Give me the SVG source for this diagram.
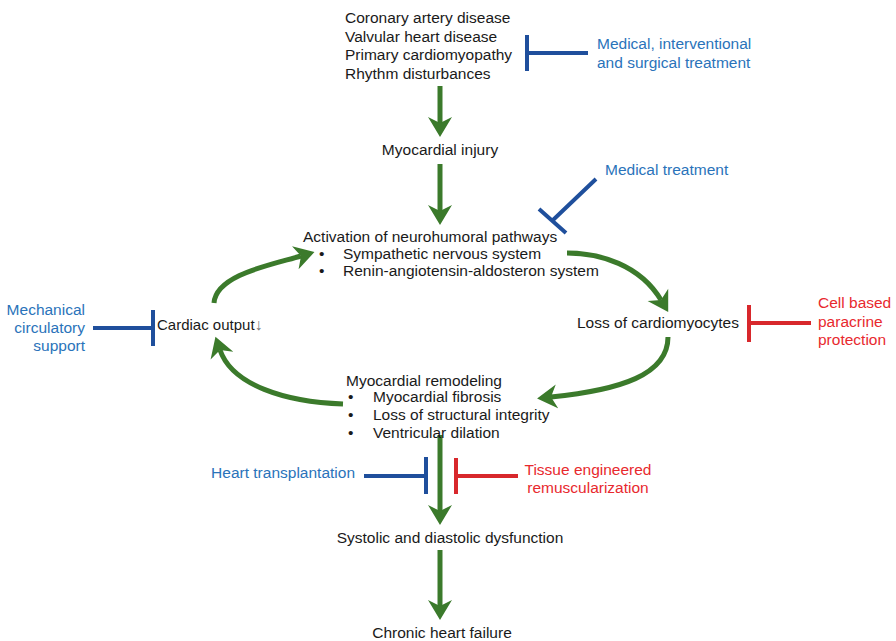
<svg xmlns="http://www.w3.org/2000/svg" width="896" height="641" viewBox="0 0 896 641">
<style>
text{font-family:"Liberation Sans",Arial,sans-serif;font-size:15.5px;fill:#1a1a1a}
.b{fill:#2a73ba}
.r{fill:#e8292e}
.g{fill:none;stroke:#3b7a2b;stroke-width:5;marker-end:url(#ah)}
.bl{fill:none;stroke:#1f4f9c;stroke-width:4}
.rl{fill:none;stroke:#d8282c;stroke-width:4}
</style>
<defs>
<marker id="ah" markerUnits="userSpaceOnUse" viewBox="0 -13 21 26" markerWidth="21" markerHeight="26" refX="6" refY="0" orient="auto">
<path d="M0,-12 L20,0 L0,12 L6,0 Z" fill="#3b7a2b"/>
</marker>
</defs>
<rect width="896" height="641" fill="#fff"/>
<g id="connectors">
<line class="g" x1="440" y1="86" x2="440" y2="123"/>
<line class="g" x1="440" y1="164" x2="440" y2="211"/>
<line class="g" x1="440" y1="435" x2="440" y2="511"/>
<line class="g" x1="440" y1="550" x2="440" y2="606"/>
<path class="g" d="M214,303 C216,275 270,265 301,256"/>
<path class="g" d="M567,253 C600,253 640,265 661,300"/>
<path class="g" d="M668,337 C668,375 620,390 551,397"/>
<path class="g" d="M343,404 C285,402 232,385 220,350"/>
<path class="bl" d="M588,53 H527 M527,35 V71"/>
<path class="bl" d="M596,179 L553,220 M539,209 L566,233"/>
<path class="bl" d="M93,328 H153 M153,310 V346"/>
<path class="rl" d="M811,323 H749 M749,305 V342"/>
<path class="bl" d="M364,476 H426 M426,457 V494"/>
<path class="rl" d="M518,476 H456 M456,458 V494"/>
</g>
<g id="causes">
<text x="345" y="23">Coronary artery disease</text>
<text x="345" y="41.5">Valvular heart disease</text>
<text x="345" y="60">Primary cardiomyopathy</text>
<text x="345" y="78.5">Rhythm disturbances</text>
</g>
<g id="treat-medical-interventional">
<text class="b" x="597" y="49">Medical, interventional</text>
<text class="b" x="597" y="68">and surgical treatment</text>
</g>
<g id="injury"><text x="440" y="155" text-anchor="middle">Myocardial injury</text></g>
<g id="treat-medical"><text class="b" x="605" y="175">Medical treatment</text></g>
<g id="neurohumoral">
<text x="303" y="242">Activation of neurohumoral pathways</text>
<text x="319" y="259">•</text><text x="343" y="259">Sympathetic nervous system</text>
<text x="319" y="276">•</text><text x="343" y="276">Renin-angiotensin-aldosteron system</text>
</g>
<g id="mech-support">
<text class="b" x="85" y="315" text-anchor="end">Mechanical</text>
<text class="b" x="85" y="333" text-anchor="end">circulatory</text>
<text class="b" x="85" y="351" text-anchor="end">support</text>
</g>
<g id="cardiac-output"><text x="157" y="330" style="font-size:15px">Cardiac output<tspan fill="#777" font-size="16">↓</tspan></text></g>
<g id="loss-cardiomyocytes"><text x="577" y="328">Loss of cardiomyocytes</text></g>
<g id="cell-paracrine">
<text class="r" x="818" y="308">Cell based</text>
<text class="r" x="818" y="327">paracrine</text>
<text class="r" x="818" y="345">protection</text>
</g>
<g id="remodeling">
<text x="346" y="386">Myocardial remodeling</text>
<text x="348" y="402">•</text><text x="373" y="402">Myocardial fibrosis</text>
<text x="348" y="420">•</text><text x="373" y="420">Loss of structural integrity</text>
<text x="348" y="438">•</text><text x="373" y="438">Ventricular dilation</text>
</g>
<g id="heart-transplant"><text class="b" x="355" y="478" text-anchor="end">Heart transplantation</text></g>
<g id="tissue-eng">
<text class="r" x="588" y="475" text-anchor="middle">Tissue engineered</text>
<text class="r" x="588" y="493" text-anchor="middle">remuscularization</text>
</g>
<g id="dysfunction"><text x="450" y="543" text-anchor="middle">Systolic and diastolic dysfunction</text></g>
<g id="chf"><text x="442" y="638" text-anchor="middle">Chronic heart failure</text></g>
</svg>
